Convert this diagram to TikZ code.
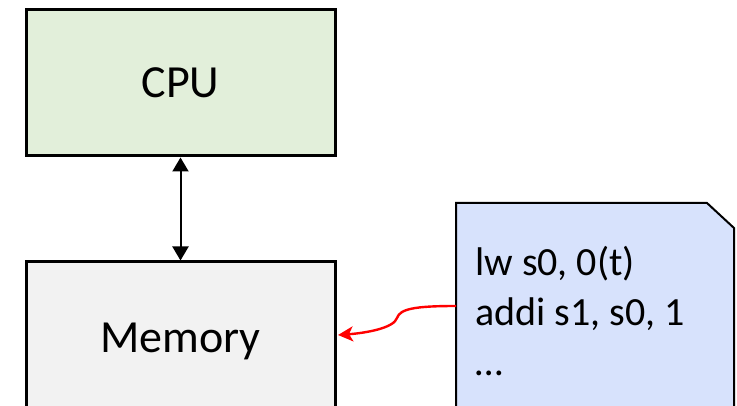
\documentclass[tikz,border=0pt]{standalone}
\usepackage{fontspec}
\setmainfont{Carlito}
\usetikzlibrary{arrows.meta}

\definecolor{cpugreen}{RGB}{226,239,218}
\definecolor{memgray}{RGB}{242,242,242}
\definecolor{noteblue}{RGB}{215,226,252}

\tikzset{
  unit/.style={draw=black,line width=3pt,minimum width=309pt,inner sep=0pt,
    font=\fontsize{46}{55}\selectfont},
  bus/.style={line width=2pt,{Triangle[length=14pt,width=16pt]}-{Triangle[length=14pt,width=16pt]}},
  fetch/.style={red,line width=2.4pt,-{Stealth[length=15pt,width=15pt,inset=4pt]}}
}

\begin{document}
\begin{tikzpicture}[x=1pt,y=-1pt]
\clip (0,0) rectangle (737,406);

\node[unit,fill=cpugreen,minimum height=146pt] (cpu) at (180.5,83) {CPU};
\node[unit,fill=memgray,minimum height=159pt] (mem) at (180.5,341.5) {Memory};

\draw[bus] (cpu.south) -- (mem.north);

% program listing
\draw[line width=2pt,fill=noteblue] (456,203) -- (707,203) -- (734,228) -- (734,430) -- (456,430) -- cycle;
\node[anchor=north west,inner sep=0pt,align=left,
  font=\fontsize{40}{50}\selectfont] (code) at (475,246) {lw s0, 0(t)\\addi s1, s0, 1\\…};

\coordinate (codeout) at (456,306);
\coordinate (memin) at ([yshift=6.5pt]mem.east);
\draw[fetch] (codeout) .. controls (414,306) and (400,309) .. (397,318)
  .. controls (394,328) and (366,333) .. ([xshift=1.5pt]memin);
\end{tikzpicture}
\end{document}
